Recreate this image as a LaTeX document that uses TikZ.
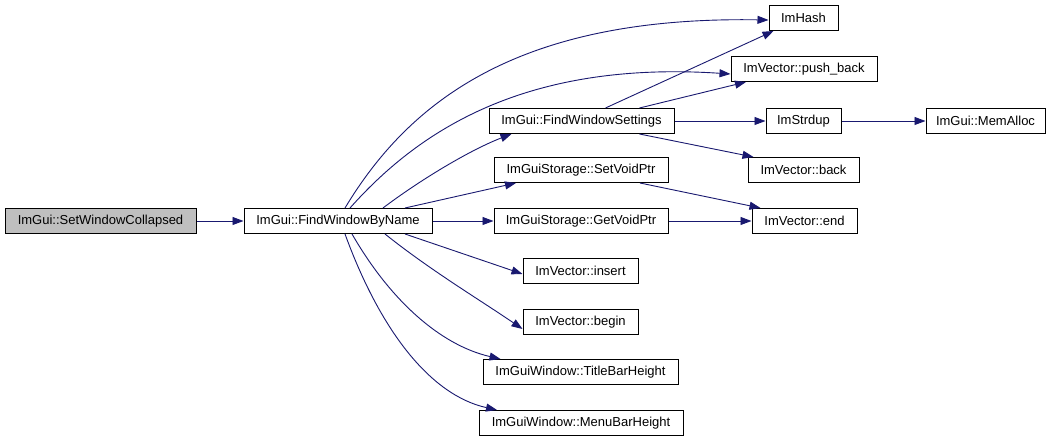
\documentclass[tikz,border=0pt]{standalone}
\usepackage{fontspec}
\setmainfont{Liberation Sans}
\usetikzlibrary{arrows.meta,calc}
\definecolor{edgec}{HTML}{191970}
\definecolor{graybox}{HTML}{BFBFBF}
\begin{document}
\begin{tikzpicture}[x=1pt,y=-1pt,
  box/.style={draw=black,line width=1pt,minimum height=25pt,inner sep=0pt,font=\fontsize{13}{15}\selectfont,fill=white},
  edge/.style={draw=edgec,line width=0.9pt,-{Triangle[length=11pt,width=8pt]}}]
\useasboundingbox (0,0) rectangle (1053,443);
\fill[white] (0,0) rectangle (1053,443);
\node[box,fill=graybox,minimum width=191pt] (swc) at (100.5,221) {ImGui::SetWindowCollapsed};
\node[box,minimum width=188pt] (fwbn) at (338,221) {ImGui::FindWindowByName};
\node[box,minimum width=69pt] (imhash) at (803.5,18) {ImHash};
\node[box,minimum width=146pt] (pushback) at (804,69) {ImVector::push\_back};
\node[box,minimum width=185pt] (fws) at (581.5,121) {ImGui::FindWindowSettings};
\node[box,minimum width=75pt] (strdup) at (803.5,121) {ImStrdup};
\node[box,minimum width=119pt] (memalloc) at (985.5,121) {ImGui::MemAlloc};
\node[box,minimum width=111pt] (back) at (803.5,170) {ImVector::back};
\node[box,minimum width=174pt] (setvoid) at (581,170) {ImGuiStorage::SetVoidPtr};
\node[box,minimum width=174pt] (getvoid) at (581,221) {ImGuiStorage::GetVoidPtr};
\node[box,minimum width=105pt] (end) at (804.5,221) {ImVector::end};
\node[box,minimum width=115pt] (insert) at (580.5,271) {ImVector::insert};
\node[box,minimum width=115pt] (begin) at (580.5,322) {ImVector::begin};
\node[box,minimum width=195pt] (title) at (580.5,372) {ImGuiWindow::TitleBarHeight};
\node[box,minimum width=204pt] (menu) at (581,423) {ImGuiWindow::MenuBarHeight};

\draw[edge] (swc) -- (fwbn);
\draw[edge] ([xshift=7pt]fwbn.north) .. controls (410,100) and (520,16) .. ([yshift=-2pt]imhash.west);
\draw[edge] ([xshift=12pt]fwbn.north) .. controls (415,135) and (520,60) .. ([yshift=-5pt]pushback.west);
\draw[edge] ([xshift=45pt]fwbn.north) .. controls (420,180) and (470,150) .. ([xshift=-70pt]fws.south);
\draw[edge] ([xshift=67pt]fwbn.north) -- ([xshift=-65pt]setvoid.south);
\draw[edge] (fwbn) -- (getvoid);
\draw[edge] ([xshift=67pt]fwbn.south) -- ([yshift=-3pt]insert.west);
\draw[edge] ([xshift=47pt]fwbn.south) .. controls (430,270) and (480,300) .. ([yshift=-7pt]begin.west);
\draw[edge] ([xshift=14pt]fwbn.south) .. controls (390,300) and (440,345) .. ([xshift=-80pt]title.north);
\draw[edge] ([xshift=7pt]fwbn.south) .. controls (380,330) and (430,395) .. ([xshift=-84pt]menu.north);
\draw[edge] ([xshift=24pt]fws.north) -- ([xshift=-30pt]imhash.south);
\draw[edge] ([xshift=58pt]fws.north) -- ([xshift=-58pt]pushback.south);
\draw[edge] (fws) -- (strdup);
\draw[edge] ([xshift=58pt]fws.south) -- ([xshift=-50pt]back.north);
\draw[edge] (strdup) -- (memalloc);
\draw[edge] ([xshift=59pt]setvoid.south) -- ([xshift=-44pt]end.north);
\draw[edge] (getvoid) -- (end);
\end{tikzpicture}
\end{document}
